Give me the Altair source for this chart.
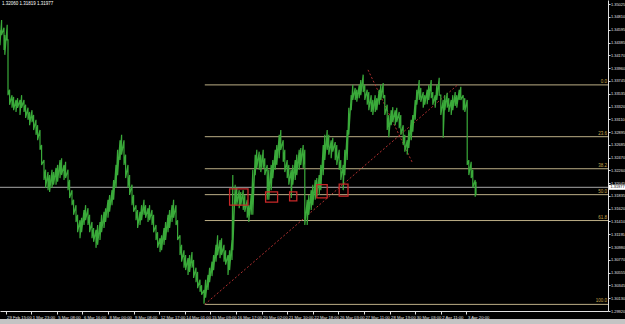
import altair as alt
import pandas as pd

# ---------------- price data (EUR/USD H1, sampled) ----------------
bars = [0, 2, 5, 6, 9, 10, 12, 15, 17, 20, 22, 25, 27, 30, 32, 35, 37, 40, 42, 45, 47, 50,
        52, 55, 57, 60, 62, 65, 67, 70, 72, 75, 77, 80, 82, 85, 87, 90, 92, 95, 97, 100,
        102, 105, 107, 110, 112, 115, 117, 120, 122, 125, 127, 130, 132, 135, 137, 140,
        142, 145, 147, 150, 152, 155, 157, 160, 162, 165, 167, 170, 172, 175, 177, 180,
        182, 185, 187, 190, 192, 195, 197, 200, 202, 205, 207, 210, 212, 215, 217, 220,
        222, 225, 227, 230, 232, 235, 237, 240, 242, 245, 247, 250, 252, 255, 257, 260,
        262, 265, 267, 270, 272, 275, 277, 280, 282, 285, 287, 290, 291, 294, 296, 299,
        301, 304, 306, 309, 311, 314, 316, 319, 321, 324, 326, 329, 331, 334, 336, 339,
        341, 344, 346, 349, 351, 354, 356, 359, 361, 364, 366, 369, 371, 374, 376, 379,
        381, 384, 386, 389, 391, 394, 396, 399, 401, 404, 406, 409, 411, 414, 416, 419,
        421, 424, 426, 429, 431, 434, 436, 439, 441, 444, 446, 449, 451, 454, 456, 459,
        461, 464, 466, 469, 471, 474, 476, 479, 481, 484, 486, 489, 491, 494, 496, 499,
        501, 504, 506, 509, 511, 514, 516, 519, 521, 524, 526, 529, 531, 534, 536, 539,
        541, 544, 546, 549, 551, 554, 556, 559, 561, 564, 566, 569, 571, 574, 576, 579,
        581, 584, 586, 589, 591, 594, 595]
highs = [1.3459, 1.3476, 1.3463, 1.3451, 1.3468, 1.3443, 1.3360, 1.3351, 1.3348, 1.3343,
         1.3346, 1.3343, 1.3351, 1.3343, 1.3335, 1.3330, 1.3323, 1.3326, 1.3318, 1.3310,
         1.3301, 1.3293, 1.3268, 1.3243, 1.3227, 1.3223, 1.3218, 1.3227, 1.3223, 1.3230,
         1.3235, 1.3243, 1.3246, 1.3235, 1.3240, 1.3227, 1.3210, 1.3193, 1.3177, 1.3168,
         1.3152, 1.3143, 1.3147, 1.3160, 1.3168, 1.3163, 1.3152, 1.3140, 1.3130, 1.3127,
         1.3135, 1.3140, 1.3152, 1.3157, 1.3163, 1.3177, 1.3185, 1.3193, 1.3210, 1.3235,
         1.3260, 1.3276, 1.3285, 1.3276, 1.3252, 1.3235, 1.3218, 1.3202, 1.3185, 1.3168,
         1.3160, 1.3157, 1.3168, 1.3177, 1.3168, 1.3163, 1.3168, 1.3160, 1.3152, 1.3135,
         1.3123, 1.3113, 1.3118, 1.3130, 1.3140, 1.3152, 1.3160, 1.3168, 1.3177, 1.3168,
         1.3143, 1.3118, 1.3102, 1.3093, 1.3085, 1.3080, 1.3085, 1.3090, 1.3077, 1.3064,
         1.3057, 1.3044, 1.3035, 1.3027, 1.3044, 1.3052, 1.3064, 1.3074, 1.3085, 1.3102,
         1.3118, 1.3110, 1.3113, 1.3102, 1.3093, 1.3085, 1.3093, 1.3110, 1.3218, 1.3202,
         1.3197, 1.3193, 1.3190, 1.3193, 1.3185, 1.3177, 1.3168, 1.3185, 1.3227, 1.3252,
         1.3260, 1.3257, 1.3252, 1.3260, 1.3246, 1.3235, 1.3227, 1.3235, 1.3243, 1.3260,
         1.3268, 1.3285, 1.3293, 1.3276, 1.3260, 1.3243, 1.3235, 1.3227, 1.3235, 1.3243,
         1.3252, 1.3260, 1.3263, 1.3268, 1.3260, 1.3177, 1.3185, 1.3193, 1.3202, 1.3210,
         1.3213, 1.3218, 1.3235, 1.3268, 1.3285, 1.3293, 1.3285, 1.3276, 1.3280, 1.3273,
         1.3268, 1.3260, 1.3243, 1.3235, 1.3260, 1.3293, 1.3330, 1.3351, 1.3368, 1.3363,
         1.3360, 1.3368, 1.3376, 1.3385, 1.3368, 1.3360, 1.3356, 1.3351, 1.3343, 1.3351,
         1.3346, 1.3360, 1.3368, 1.3371, 1.3351, 1.3335, 1.3318, 1.3326, 1.3331, 1.3326,
         1.3330, 1.3323, 1.3318, 1.3301, 1.3285, 1.3276, 1.3293, 1.3310, 1.3318, 1.3343,
         1.3360, 1.3376, 1.3363, 1.3356, 1.3351, 1.3360, 1.3368, 1.3376, 1.3356, 1.3351,
         1.3368, 1.3380, 1.3351, 1.3343, 1.3351, 1.3355, 1.3346, 1.3343, 1.3351, 1.3356,
         1.3351, 1.3360, 1.3365, 1.3351, 1.3346, 1.3343, 1.3243, 1.3240, 1.3227, 1.3210,
         1.3207]
lows = [1.3434, 1.3451, 1.3426, 1.3418, 1.3443, 1.3351, 1.3335, 1.3330, 1.3326, 1.3323,
        1.3330, 1.3318, 1.3330, 1.3323, 1.3313, 1.3310, 1.3301, 1.3306, 1.3293, 1.3285,
        1.3276, 1.3260, 1.3235, 1.3210, 1.3197, 1.3193, 1.3190, 1.3197, 1.3202, 1.3202,
        1.3207, 1.3213, 1.3218, 1.3210, 1.3213, 1.3193, 1.3180, 1.3168, 1.3152, 1.3140,
        1.3123, 1.3113, 1.3123, 1.3135, 1.3143, 1.3135, 1.3123, 1.3113, 1.3107, 1.3097,
        1.3102, 1.3110, 1.3123, 1.3130, 1.3140, 1.3147, 1.3157, 1.3168, 1.3177, 1.3197,
        1.3218, 1.3243, 1.3252, 1.3235, 1.3213, 1.3197, 1.3185, 1.3168, 1.3157, 1.3143,
        1.3130, 1.3135, 1.3143, 1.3152, 1.3147, 1.3140, 1.3143, 1.3135, 1.3123, 1.3110,
        1.3097, 1.3090, 1.3093, 1.3102, 1.3110, 1.3123, 1.3130, 1.3140, 1.3147, 1.3135,
        1.3110, 1.3085, 1.3074, 1.3064, 1.3060, 1.3052, 1.3057, 1.3064, 1.3047, 1.3040,
        1.3030, 1.3024, 1.3019, 1.3004, 1.3014, 1.3027, 1.3040, 1.3050, 1.3060, 1.3074,
        1.3085, 1.3080, 1.3085, 1.3074, 1.3069, 1.3052, 1.3060, 1.3077, 1.3093, 1.3168,
        1.3168, 1.3163, 1.3167, 1.3160, 1.3157, 1.3147, 1.3140, 1.3152, 1.3152, 1.3218,
        1.3230, 1.3227, 1.3223, 1.3230, 1.3218, 1.3177, 1.3177, 1.3193, 1.3213, 1.3227,
        1.3235, 1.3246, 1.3260, 1.3240, 1.3223, 1.3213, 1.3202, 1.3180, 1.3202, 1.3210,
        1.3218, 1.3227, 1.3235, 1.3230, 1.3135, 1.3135, 1.3152, 1.3160, 1.3168, 1.3177,
        1.3183, 1.3185, 1.3193, 1.3218, 1.3243, 1.3260, 1.3252, 1.3246, 1.3257, 1.3243,
        1.3235, 1.3227, 1.3210, 1.3193, 1.3218, 1.3243, 1.3285, 1.3326, 1.3343, 1.3343,
        1.3340, 1.3346, 1.3351, 1.3356, 1.3343, 1.3335, 1.3326, 1.3323, 1.3318, 1.3323,
        1.3326, 1.3335, 1.3343, 1.3346, 1.3318, 1.3293, 1.3281, 1.3301, 1.3306, 1.3301,
        1.3306, 1.3296, 1.3285, 1.3268, 1.3257, 1.3252, 1.3263, 1.3276, 1.3290, 1.3310,
        1.3335, 1.3343, 1.3340, 1.3330, 1.3335, 1.3336, 1.3343, 1.3346, 1.3335, 1.3330,
        1.3343, 1.3351, 1.3318, 1.3280, 1.3326, 1.3330, 1.3323, 1.3318, 1.3326, 1.3333,
        1.3330, 1.3343, 1.3343, 1.3326, 1.3323, 1.3235, 1.3218, 1.3213, 1.3197, 1.3182,
        1.3185]

# ---------------- axes ----------------
price_ticks = [1.35025, 1.34810, 1.34595, 1.34385, 1.34170, 1.33960, 1.33745, 1.33535,
               1.33320, 1.33110, 1.32895, 1.32685, 1.32470, 1.32260, 1.32045, 1.31835,
               1.31620, 1.31410, 1.31195, 1.30980, 1.30770, 1.30555, 1.30345, 1.30130,
               1.29920]
time_bars = [7, 39, 71, 103, 135, 167, 199, 231, 263, 295, 327, 359, 391, 423, 455, 487,
             519, 551, 583]
time_labels = ["29 Feb 15:00", "1 Mar 23:00", "5 Mar 08:00", "6 Mar 16:00", "8 Mar 00:00",
               "9 Mar 08:00", "12 Mar 17:00", "14 Mar 01:00", "15 Mar 09:00", "16 Mar 17:00",
               "20 Mar 02:00", "21 Mar 10:00", "22 Mar 18:00", "26 Mar 03:00", "27 Mar 11:00",
               "28 Mar 19:00", "30 Mar 03:00", "2 Apr 11:00", "3 Apr 20:00"]

# ---------------- annotations ----------------
bid_price = 1.31977
header_text = "1.32060 1.31819 1.31977"
fib_low_bar, fib_low = 256, 1.30030
fib_high_bar, fib_high = 572, 1.33680
fib_ratios = [0.0, 0.236, 0.382, 0.5, 0.618, 1.0]
fib_names = ["0.0", "23.6", "38.2", "50.0", "61.8", "100.0"]
box_bar1 = [287, 332, 362, 396, 424]
box_bar2 = [310, 347, 371, 409, 435]
box_p1 = [1.3195, 1.3190, 1.3190, 1.3202, 1.3203]
box_p2 = [1.3168, 1.3173, 1.3175, 1.3180, 1.3183]
diag_bar1 = [256, 460]
diag_bar2 = [572, 515]
diag_p1 = [1.30030, 1.3393]
diag_p2 = [1.33680, 1.3240]

X_END = 760
FONT = "Liberation Sans"
GREEN = "#3aaa3a"
AXIS_GRAY = "#e0e0e0"

price_df = pd.DataFrame({"bar": bars, "hi": highs, "lo": lows})
fib_df = pd.DataFrame({
    "b1": [fib_low_bar] * len(fib_ratios),
    "b2": [X_END] * len(fib_ratios),
    "p": [fib_high - r * (fib_high - fib_low) for r in fib_ratios],
    "name": fib_names,
})
box_df = pd.DataFrame({"b1": box_bar1, "b2": box_bar2, "p1": box_p1, "p2": box_p2})
diag_df = pd.DataFrame({"b1": diag_bar1, "b2": diag_bar2, "p1": diag_p1, "p2": diag_p2})

xs = alt.Scale(domain=[0, X_END], nice=False, zero=False)
ys = alt.Scale(domain=[1.29920, 1.35092], nice=False, zero=False)

label_expr = ("[" + ",".join("'%s'" % t for t in time_labels) + "][indexof(["
              + ",".join(str(b) for b in time_bars) + "], datum.value)]")

xaxis = alt.Axis(values=time_bars, labelExpr=label_expr, labelAlign="left", labelBaseline="top",
                 labelPadding=1, labelOffset=1, tickSize=3, labelFontSize=4.2, labelFont=FONT,
                 labelColor=AXIS_GRAY, tickColor=AXIS_GRAY, domainColor=AXIS_GRAY,
                 labelOverlap=False, labelFlush=False, grid=False, title=None)
yaxis = alt.Axis(orient="right", values=price_ticks, format=".5f", labelFontSize=3.9,
                 labelFont=FONT, labelColor=AXIS_GRAY, tickColor=AXIS_GRAY,
                 domainColor=AXIS_GRAY, tickSize=2, labelPadding=0.5, labelOverlap=False,
                 labelFlush=False, grid=False, title=None)


def X(field):
    return alt.X(field, type="quantitative", scale=xs, axis=xaxis)


def Y(field):
    return alt.Y(field, type="quantitative", scale=ys, axis=yaxis)


# bars drawn as a high/low zigzag, like dense OHLC bars
price = alt.Chart(price_df).transform_fold(
    ["hi", "lo"], as_=["k", "v"]
).transform_calculate(
    ord="datum.bar * 2 + (datum.k == 'lo' ? 1 : 0)"
).mark_line(color=GREEN, strokeWidth=1.2, interpolate="linear").encode(
    x=X("bar"), y=Y("v"), order=alt.Order("ord:Q"))

bid_line = alt.Chart(pd.DataFrame({"p": [bid_price]})).mark_rule(
    color="#a8a8a8", strokeWidth=1).encode(y=Y("p"), x=alt.value(0), x2=alt.value(608))

fib_lines = alt.Chart(fib_df).mark_rule(color="#bcae86", strokeWidth=1).encode(
    x=X("b1"), x2="b2", y=Y("p"))
fib_text = alt.Chart(fib_df).mark_text(
    color="#c8a64c", fontSize=4.5, font=FONT, align="right", baseline="bottom", dx=-1, dy=-1
).encode(x=X("b2"), y=Y("p"), text="name")

diag = alt.Chart(diag_df).mark_rule(color="#b03030", strokeWidth=1, strokeDash=[2, 2]).encode(
    x=X("b1"), x2="b2", y=Y("p1"), y2="p2")

boxes = alt.Chart(box_df).mark_rect(fill=None, stroke="#c82828", strokeWidth=1.3).encode(
    x=X("b1"), x2="b2", y=Y("p1"), y2="p2")

bid_box = alt.Chart(pd.DataFrame({"p": [bid_price]})).mark_rule(
    color="#ffffff", strokeWidth=5).encode(y=Y("p"), x=alt.value(609), x2=alt.value(625))
bid_text = alt.Chart(pd.DataFrame({"p": [bid_price], "t": ["%.5f" % bid_price]})).mark_text(
    color="#000000", fontSize=3.9, font=FONT, align="left", baseline="middle"
).encode(y=Y("p"), x=alt.value(610.5), text="t")

header = alt.Chart(pd.DataFrame({"t": [header_text]})).mark_text(
    color="#ffffff", fontSize=4.5, font=FONT, align="left", baseline="middle"
).encode(x=alt.value(2), y=alt.value(4), text="t")

tabbar = alt.Chart(pd.DataFrame({"a": [0]})).mark_rect(color="#c4c4c4").encode(
    x=alt.value(0), x2=alt.value(625), y=alt.value(319), y2=alt.value(324))

chart = alt.layer(
    tabbar, bid_line, fib_lines, fib_text, diag, price, boxes, bid_box, bid_text, header
).properties(
    width=608, height=311, background="#000000",
    padding={"left": 0, "top": 0, "right": 17, "bottom": 13},
    autosize=alt.AutoSizeParams(type="none"),
).configure_view(stroke=None)

chart.save("out.html", embed_options={"renderer": "svg", "actions": False})
